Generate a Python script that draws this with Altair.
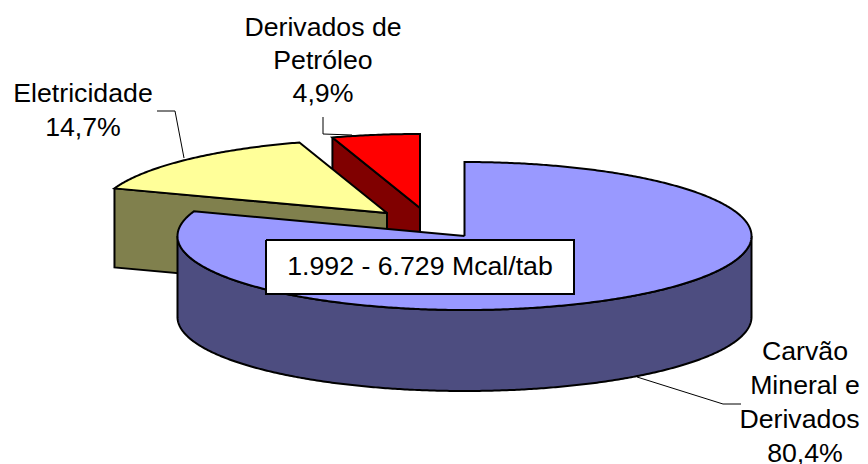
import numpy as np
import pandas as pd
import altair as alt

# Data
categories = ["Carvão Mineral e Derivados", "Eletricidade", "Derivados de Petróleo"]
shares = [80.4, 14.7, 4.9]
top_colors = ["#9999FF", "#FFFF99", "#FF0000"]
side_colors = ["#4D4D80", "#80804D", "#800000"]
apex_x = [464.5, 387, 420]
apex_y = [236, 213, 208]
radius_x = [287, 289, 289]
depths = [81, 79, 79]
label_lines = [
    ["Carvão", "Mineral e", "Derivados", "80,4%"],
    ["Eletricidade", "14,7%"],
    ["Derivados de", "Petróleo", "4,9%"],
]
label_x = [[805, 805, 799.5, 805], [83, 83], [323, 323, 323]]
label_y = [[352, 386, 420, 454], [94, 128], [28, 61, 94]]
center_text = "1.992 - 6.729 Mcal/tab"
box_x = [266, 574]
box_y = [240, 294]
leaders = [
    [(637, 377), (723, 404), (741, 404)],
    [(157, 111), (175, 111), (184, 158)],
    [(323, 117), (323, 134), (352, 135)],
]
RY = 74

WIDTH, HEIGHT = 852, 456
x_scale = alt.Scale(domain=[8, 8 + WIDTH], range=[0, WIDTH], nice=False, zero=False)
y_scale = alt.Scale(domain=[8, 8 + HEIGHT], range=[0, HEIGHT], nice=False, zero=False)


def arc(cx, cy, rx, a0, a1, dy=0):
    t = np.radians(np.linspace(a0, a1, max(int(abs(a1 - a0)) * 2, 2) + 1))
    return list(zip(cx + rx * np.sin(t), cy - RY * np.cos(t) + dy))


def poly(points, fill):
    pts = list(points) + [points[0]]
    df = pd.DataFrame(pts, columns=["x", "y"])
    df["i"] = range(len(df))
    return (
        alt.Chart(df)
        .mark_line(fill=fill, stroke="#000000", strokeWidth=2, strokeJoin="miter", clip=False, interpolate="linear")
        .encode(
            x=alt.X("x:Q", scale=x_scale, axis=None),
            y=alt.Y("y:Q", scale=y_scale, axis=None),
            order=alt.Order("i:Q"),
        )
    )


def polyline(points, color="#000000", w=1):
    df = pd.DataFrame(points, columns=["x", "y"])
    df["i"] = range(len(df))
    return (
        alt.Chart(df)
        .mark_line(stroke=color, strokeWidth=w)
        .encode(
            x=alt.X("x:Q", scale=x_scale, axis=None),
            y=alt.Y("y:Q", scale=y_scale, axis=None),
            order=alt.Order("i:Q"),
        )
    )


# cumulative angles, starting at 12 o'clock, clockwise
edges = np.cumsum([0] + shares) * 3.6
layers = []

# Derivados de Petróleo (back), then Eletricidade
for k in (2, 1):
    a0, a1 = edges[k], edges[k + 1]
    cx, cy, rx, d = apex_x[k], apex_y[k], radius_x[k], depths[k]
    e = arc(cx, cy, rx, a0, a0)[0]
    layers.append(poly([e, (cx, cy), (cx, cy + d), (e[0], e[1] + d)], side_colors[k]))
    layers.append(poly([(cx, cy)] + arc(cx, cy, rx, a0, a1), top_colors[k]))

# Carvão (front)
a0, a1 = edges[0], edges[1]
cx, cy, rx, d = apex_x[0], apex_y[0], radius_x[0], depths[0]
layers.append(poly(arc(cx, cy, rx, 90, 270) + arc(cx, cy, rx, 270, 90, d), side_colors[0]))
layers.append(poly([(cx, cy)] + arc(cx, cy, rx, a0, a1), top_colors[0]))

# Leader lines
for pts in leaders:
    layers.append(polyline(pts, "#000000", 1))

# Box
layers.append(
    poly(
        [(box_x[0], box_y[0]), (box_x[1], box_y[0]), (box_x[1], box_y[1]), (box_x[0], box_y[1])],
        "#FFFFFF",
    )
)

# Text
rows = []
for lines, lxs, lys in zip(label_lines, label_x, label_y):
    for line, lx, ly in zip(lines, lxs, lys):
        rows.append({"x": lx, "y": ly, "t": line})
rows.append({"x": sum(box_x) / 2, "y": sum(box_y) / 2, "t": center_text})
layers.append(
    alt.Chart(pd.DataFrame(rows))
    .mark_text(font="Liberation Sans", fontSize=26.7, color="#000000", align="center", baseline="middle")
    .encode(
        x=alt.X("x:Q", scale=x_scale, axis=None),
        y=alt.Y("y:Q", scale=y_scale, axis=None),
        text="t:N",
    )
)

chart = (
    alt.layer(*layers)
    .properties(width=WIDTH, height=HEIGHT, padding=0, autosize=alt.AutoSizeParams(type="none"), background="#FFFFFF")
    .configure_view(stroke=None)
)

chart.save("out.html", embed_options={"renderer": "svg", "actions": False})
